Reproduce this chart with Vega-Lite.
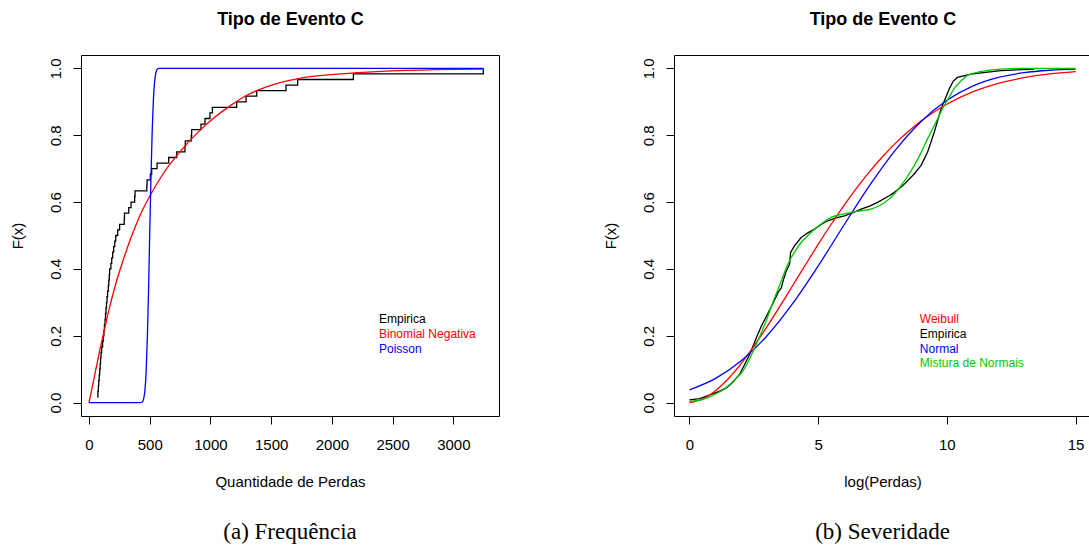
{
"$schema": "https://vega.github.io/schema/vega-lite/v6.json",
"background": "white",
"padding": {"left": 9, "top": 9, "right": 0, "bottom": 0},
"autosize": {"type": "pad"},
"spacing": 175,
"bounds": "flush",
"datasets": {
"freq": [
{"serie":"Empirica","x":68,"F":0.0167},{"serie":"Empirica","x":73,"F":0.0333},{"serie":"Empirica","x":77,"F":0.05},{"serie":"Empirica","x":80,"F":0.0667},{"serie":"Empirica","x":84,"F":0.0833},{"serie":"Empirica","x":88,"F":0.1},{"serie":"Empirica","x":92,"F":0.1167},{"serie":"Empirica","x":95,"F":0.1333},{"serie":"Empirica","x":99,"F":0.15},{"serie":"Empirica","x":104,"F":0.1667},{"serie":"Empirica","x":112,"F":0.1833},{"serie":"Empirica","x":118,"F":0.2},{"serie":"Empirica","x":123,"F":0.2167},{"serie":"Empirica","x":127,"F":0.2333},{"serie":"Empirica","x":132,"F":0.25},{"serie":"Empirica","x":136,"F":0.2667},{"serie":"Empirica","x":140,"F":0.2833},{"serie":"Empirica","x":144,"F":0.3},{"serie":"Empirica","x":148,"F":0.3167},{"serie":"Empirica","x":153,"F":0.3333},{"serie":"Empirica","x":159,"F":0.35},{"serie":"Empirica","x":163,"F":0.3667},{"serie":"Empirica","x":167,"F":0.3833},{"serie":"Empirica","x":170,"F":0.4},{"serie":"Empirica","x":180,"F":0.4167},{"serie":"Empirica","x":187,"F":0.4333},{"serie":"Empirica","x":195,"F":0.45},{"serie":"Empirica","x":203,"F":0.4667},{"serie":"Empirica","x":212,"F":0.4833},{"serie":"Empirica","x":220,"F":0.5},{"serie":"Empirica","x":236,"F":0.5167},{"serie":"Empirica","x":252,"F":0.5333},{"serie":"Empirica","x":290,"F":0.55},{"serie":"Empirica","x":292,"F":0.5667},{"serie":"Empirica","x":327,"F":0.5833},{"serie":"Empirica","x":346,"F":0.6},{"serie":"Empirica","x":376,"F":0.6167},{"serie":"Empirica","x":379,"F":0.6333},{"serie":"Empirica","x":476,"F":0.65},{"serie":"Empirica","x":478,"F":0.6667},{"serie":"Empirica","x":505,"F":0.6833},{"serie":"Empirica","x":516,"F":0.7},{"serie":"Empirica","x":560,"F":0.7167},{"serie":"Empirica","x":656,"F":0.7333},{"serie":"Empirica","x":722,"F":0.75},{"serie":"Empirica","x":790,"F":0.7667},{"serie":"Empirica","x":793,"F":0.7833},{"serie":"Empirica","x":842,"F":0.8},{"serie":"Empirica","x":845,"F":0.8167},{"serie":"Empirica","x":922,"F":0.8333},{"serie":"Empirica","x":955,"F":0.85},{"serie":"Empirica","x":996,"F":0.8667},{"serie":"Empirica","x":1016,"F":0.8833},{"serie":"Empirica","x":1216,"F":0.9},{"serie":"Empirica","x":1293,"F":0.9167},{"serie":"Empirica","x":1381,"F":0.9333},{"serie":"Empirica","x":1622,"F":0.95},{"serie":"Empirica","x":1718,"F":0.9667},{"serie":"Empirica","x":2177,"F":0.9833},{"serie":"Empirica","x":3247,"F":1.0},
{"serie":"Binomial Negativa","x":0,"F":0},{"serie":"Binomial Negativa","x":40,"F":0.07},{"serie":"Binomial Negativa","x":85,"F":0.15},{"serie":"Binomial Negativa","x":125,"F":0.215},{"serie":"Binomial Negativa","x":159,"F":0.27},{"serie":"Binomial Negativa","x":220,"F":0.355},{"serie":"Binomial Negativa","x":280,"F":0.425},{"serie":"Binomial Negativa","x":346,"F":0.494},{"serie":"Binomial Negativa","x":420,"F":0.56},{"serie":"Binomial Negativa","x":510,"F":0.624},{"serie":"Binomial Negativa","x":620,"F":0.69},{"serie":"Binomial Negativa","x":757,"F":0.754},{"serie":"Binomial Negativa","x":900,"F":0.81},{"serie":"Binomial Negativa","x":1032,"F":0.853},{"serie":"Binomial Negativa","x":1170,"F":0.89},{"serie":"Binomial Negativa","x":1307,"F":0.921},{"serie":"Binomial Negativa","x":1450,"F":0.943},{"serie":"Binomial Negativa","x":1581,"F":0.958},{"serie":"Binomial Negativa","x":1746,"F":0.971},{"serie":"Binomial Negativa","x":2020,"F":0.982},{"serie":"Binomial Negativa","x":2295,"F":0.989},{"serie":"Binomial Negativa","x":2600,"F":0.994},{"serie":"Binomial Negativa","x":2844,"F":0.996},{"serie":"Binomial Negativa","x":3247,"F":0.998},
{"serie":"Poisson","x":0,"F":0},{"serie":"Poisson","x":420,"F":0},{"serie":"Poisson","x":440,"F":0.003},{"serie":"Poisson","x":450,"F":0.012},{"serie":"Poisson","x":460,"F":0.035},{"serie":"Poisson","x":470,"F":0.09},{"serie":"Poisson","x":480,"F":0.19},{"serie":"Poisson","x":490,"F":0.33},{"serie":"Poisson","x":500,"F":0.51},{"serie":"Poisson","x":510,"F":0.67},{"serie":"Poisson","x":520,"F":0.81},{"serie":"Poisson","x":530,"F":0.905},{"serie":"Poisson","x":540,"F":0.96},{"serie":"Poisson","x":550,"F":0.986},{"serie":"Poisson","x":560,"F":0.996},{"serie":"Poisson","x":575,"F":1.0},{"serie":"Poisson","x":3247,"F":1.0}
],
"sev": [
{"serie":"Empirica","x":0,"F":0.008},{"serie":"Empirica","x":0.4,"F":0.012},{"serie":"Empirica","x":0.8,"F":0.023},{"serie":"Empirica","x":1.2,"F":0.035},{"serie":"Empirica","x":1.45,"F":0.045},{"serie":"Empirica","x":1.7,"F":0.062},{"serie":"Empirica","x":1.95,"F":0.085},{"serie":"Empirica","x":2.15,"F":0.115},{"serie":"Empirica","x":2.34,"F":0.145},{"serie":"Empirica","x":2.5,"F":0.175},{"serie":"Empirica","x":2.66,"F":0.205},{"serie":"Empirica","x":2.8,"F":0.23},{"serie":"Empirica","x":2.98,"F":0.257},{"serie":"Empirica","x":3.2,"F":0.29},{"serie":"Empirica","x":3.44,"F":0.329},{"serie":"Empirica","x":3.57,"F":0.344},{"serie":"Empirica","x":3.66,"F":0.37},{"serie":"Empirica","x":3.76,"F":0.394},{"serie":"Empirica","x":3.89,"F":0.414},{"serie":"Empirica","x":3.93,"F":0.449},{"serie":"Empirica","x":4.08,"F":0.469},{"serie":"Empirica","x":4.34,"F":0.494},{"serie":"Empirica","x":4.6,"F":0.508},{"serie":"Empirica","x":4.86,"F":0.519},{"serie":"Empirica","x":5.1,"F":0.532},{"serie":"Empirica","x":5.37,"F":0.544},{"serie":"Empirica","x":5.7,"F":0.553},{"serie":"Empirica","x":6.02,"F":0.559},{"serie":"Empirica","x":6.35,"F":0.568},{"serie":"Empirica","x":6.67,"F":0.579},{"serie":"Empirica","x":7.0,"F":0.588},{"serie":"Empirica","x":7.31,"F":0.599},{"serie":"Empirica","x":7.76,"F":0.619},{"serie":"Empirica","x":7.96,"F":0.629},{"serie":"Empirica","x":8.3,"F":0.65},{"serie":"Empirica","x":8.73,"F":0.684},{"serie":"Empirica","x":9.0,"F":0.71},{"serie":"Empirica","x":9.25,"F":0.749},{"serie":"Empirica","x":9.51,"F":0.809},{"serie":"Empirica","x":9.77,"F":0.878},{"serie":"Empirica","x":10.09,"F":0.938},{"serie":"Empirica","x":10.25,"F":0.962},{"serie":"Empirica","x":10.41,"F":0.973},{"serie":"Empirica","x":10.93,"F":0.983},{"serie":"Empirica","x":11.5,"F":0.988},{"serie":"Empirica","x":12.1,"F":0.993},{"serie":"Empirica","x":13.4,"F":0.998},
{"serie":"Weibull","x":0,"F":0},{"serie":"Weibull","x":0.5,"F":0.0101},{"serie":"Weibull","x":1,"F":0.0348},{"serie":"Weibull","x":1.5,"F":0.0708},{"serie":"Weibull","x":2,"F":0.1159},{"serie":"Weibull","x":2.5,"F":0.1682},{"serie":"Weibull","x":3,"F":0.2256},{"serie":"Weibull","x":3.5,"F":0.2864},{"serie":"Weibull","x":4,"F":0.3489},{"serie":"Weibull","x":4.5,"F":0.4117},{"serie":"Weibull","x":5,"F":0.4733},{"serie":"Weibull","x":5.5,"F":0.5329},{"serie":"Weibull","x":6,"F":0.5895},{"serie":"Weibull","x":6.5,"F":0.6424},{"serie":"Weibull","x":7,"F":0.6912},{"serie":"Weibull","x":7.5,"F":0.7357},{"serie":"Weibull","x":8,"F":0.7757},{"serie":"Weibull","x":8.5,"F":0.8111},{"serie":"Weibull","x":9,"F":0.8424},{"serie":"Weibull","x":9.5,"F":0.8695},{"serie":"Weibull","x":10,"F":0.8928},{"serie":"Weibull","x":11,"F":0.9294},{"serie":"Weibull","x":12,"F":0.955},{"serie":"Weibull","x":13,"F":0.9722},{"serie":"Weibull","x":14,"F":0.9833},{"serie":"Weibull","x":15,"F":0.9903},
{"serie":"Normal","x":0,"F":0.0384},{"serie":"Normal","x":1,"F":0.0719},{"serie":"Normal","x":2,"F":0.1243},{"serie":"Normal","x":3,"F":0.1987},{"serie":"Normal","x":4,"F":0.2951},{"serie":"Normal","x":5,"F":0.4087},{"serie":"Normal","x":6,"F":0.5307},{"serie":"Normal","x":7,"F":0.6497},{"serie":"Normal","x":8,"F":0.7556},{"serie":"Normal","x":9,"F":0.8413},{"serie":"Normal","x":10,"F":0.9045},{"serie":"Normal","x":11,"F":0.9469},{"serie":"Normal","x":12,"F":0.9728},{"serie":"Normal","x":13,"F":0.9872},{"serie":"Normal","x":14,"F":0.9944},{"serie":"Normal","x":15,"F":0.9978},
{"serie":"Mistura de Normais","x":0,"F":0.004},{"serie":"Mistura de Normais","x":0.5,"F":0.009},{"serie":"Mistura de Normais","x":1.0,"F":0.025},{"serie":"Mistura de Normais","x":1.43,"F":0.045},{"serie":"Mistura de Normais","x":1.75,"F":0.068},{"serie":"Mistura de Normais","x":2.08,"F":0.095},{"serie":"Mistura de Normais","x":2.35,"F":0.133},{"serie":"Mistura de Normais","x":2.6,"F":0.175},{"serie":"Mistura de Normais","x":2.98,"F":0.245},{"serie":"Mistura de Normais","x":3.31,"F":0.314},{"serie":"Mistura de Normais","x":3.55,"F":0.36},{"serie":"Mistura de Normais","x":3.82,"F":0.414},{"serie":"Mistura de Normais","x":4.08,"F":0.45},{"serie":"Mistura de Normais","x":4.34,"F":0.479},{"serie":"Mistura de Normais","x":4.6,"F":0.5},{"serie":"Mistura de Normais","x":4.86,"F":0.519},{"serie":"Mistura de Normais","x":5.18,"F":0.538},{"serie":"Mistura de Normais","x":5.5,"F":0.554},{"serie":"Mistura de Normais","x":5.9,"F":0.563},{"serie":"Mistura de Normais","x":6.28,"F":0.569},{"serie":"Mistura de Normais","x":6.67,"F":0.574},{"serie":"Mistura de Normais","x":7.05,"F":0.579},{"serie":"Mistura de Normais","x":7.38,"F":0.589},{"serie":"Mistura de Normais","x":7.76,"F":0.609},{"serie":"Mistura de Normais","x":8.0,"F":0.628},{"serie":"Mistura de Normais","x":8.22,"F":0.649},{"serie":"Mistura de Normais","x":8.48,"F":0.678},{"serie":"Mistura de Normais","x":8.73,"F":0.709},{"serie":"Mistura de Normais","x":9.0,"F":0.748},{"serie":"Mistura de Normais","x":9.25,"F":0.789},{"serie":"Mistura de Normais","x":9.45,"F":0.82},{"serie":"Mistura de Normais","x":9.64,"F":0.849},{"serie":"Mistura de Normais","x":9.9,"F":0.889},{"serie":"Mistura de Normais","x":10.1,"F":0.915},{"serie":"Mistura de Normais","x":10.28,"F":0.939},{"serie":"Mistura de Normais","x":10.55,"F":0.962},{"serie":"Mistura de Normais","x":10.8,"F":0.979},{"serie":"Mistura de Normais","x":11.3,"F":0.99},{"serie":"Mistura de Normais","x":12.1,"F":0.998},{"serie":"Mistura de Normais","x":13,"F":1.0},{"serie":"Mistura de Normais","x":15,"F":1.0}
]
},
"hconcat": [
{
"width": 418, "height": 361,
"title": {"text": "(a) Frequência", "orient": "bottom", "anchor": "middle", "frame": "group", "font": "Liberation Serif", "fontSize": 23, "fontWeight": "normal", "color": "#000000", "baseline": "alphabetic", "offset": 50},
"resolve": {"axis": {"x": "independent", "y": "independent"}},
"layer": [
{"data": {"name": "freq"}, "transform": [{"filter": "datum.serie === 'Empirica'"}],
 "mark": {"type": "line", "interpolate": "step-after", "color": "#000000", "strokeWidth": 1.3},
 "encoding": {
  "x": {"field": "x", "type": "quantitative", "scale": {"domain": [-66, 3376], "nice": false, "zero": false},
        "axis": {"orient": "bottom", "values": [0,500,1000,1500,2000,2500,3000], "format": "d", "title": "Quantidade de Perdas", "labelBaseline": "alphabetic", "labelPadding": 25.5, "titleX": 209, "titleY": 70, "titleBaseline": "alphabetic", "titleAnchor": "middle"}},
  "y": {"field": "F", "type": "quantitative", "scale": {"domain": [-0.04, 1.04], "nice": false, "zero": false},
        "axis": {"orient": "left", "values": [0,0.2,0.4,0.6,0.8,1], "format": ".1f", "title": "F(x)", "labelAngle": -90, "labelAlign": "center", "labelBaseline": "alphabetic", "labelPadding": 12.7, "titleAngle": -90, "titleBaseline": "alphabetic", "titleAlign": "center", "titleX": -59, "titleY": 180.5}}
 }},
{"data": {"name": "freq"}, "transform": [{"filter": "datum.serie === 'Binomial Negativa'"}],
 "mark": {"type": "line", "interpolate": "monotone", "color": "#FF0000", "strokeWidth": 1.3},
 "encoding": {
  "x": {"field": "x", "type": "quantitative", "axis": {"orient": "top", "title": "Tipo de Evento C", "labels": false, "ticks": false, "domain": false, "titleFontSize": 18, "titleFontWeight": "bold", "titleX": 209, "titleY": -31, "titleBaseline": "alphabetic", "titleAnchor": "middle"}},
  "y": {"field": "F", "type": "quantitative", "axis": null}
 }},
{"data": {"name": "freq"}, "transform": [{"filter": "datum.serie === 'Poisson'"}],
 "mark": {"type": "line", "interpolate": "monotone", "color": "#0000FF", "strokeWidth": 1.3},
 "encoding": {
  "x": {"field": "x", "type": "quantitative", "axis": null},
  "y": {"field": "F", "type": "quantitative", "axis": null}
 }},
{"data": {"values": [{"label": "Empirica"}]}, "mark": {"type": "text", "color": "#000000"},
 "encoding": {"x": {"datum": 2388, "type": "quantitative", "axis": null}, "y": {"datum": 0.2377, "type": "quantitative", "axis": null}, "text": {"field": "label"}}},
{"data": {"values": [{"label": "Binomial Negativa"}]}, "mark": {"type": "text", "color": "#FF0000"},
 "encoding": {"x": {"datum": 2388, "type": "quantitative", "axis": null}, "y": {"datum": 0.1928, "type": "quantitative", "axis": null}, "text": {"field": "label"}}},
{"data": {"values": [{"label": "Poisson"}]}, "mark": {"type": "text", "color": "#0000FF"},
 "encoding": {"x": {"datum": 2388, "type": "quantitative", "axis": null}, "y": {"datum": 0.1497, "type": "quantitative", "axis": null}, "text": {"field": "label"}}}
]
},
{
"width": 417, "height": 361,
"title": {"text": "(b) Severidade", "orient": "bottom", "anchor": "middle", "frame": "group", "font": "Liberation Serif", "fontSize": 23, "fontWeight": "normal", "color": "#000000", "baseline": "alphabetic", "offset": 50},
"resolve": {"axis": {"x": "independent", "y": "independent"}},
"layer": [
{"data": {"name": "sev"}, "transform": [{"filter": "datum.serie === 'Empirica'"}],
 "mark": {"type": "line", "interpolate": "linear", "color": "#000000", "strokeWidth": 1.3},
 "encoding": {
  "x": {"field": "x", "type": "quantitative", "scale": {"domain": [-0.6, 15.6], "nice": false, "zero": false},
        "axis": {"orient": "bottom", "values": [0,5,10,15], "format": "d", "title": "log(Perdas)", "labelBaseline": "alphabetic", "labelPadding": 25.5, "titleX": 208.5, "titleY": 70, "titleBaseline": "alphabetic", "titleAnchor": "middle"}},
  "y": {"field": "F", "type": "quantitative", "scale": {"domain": [-0.04, 1.04], "nice": false, "zero": false},
        "axis": {"orient": "left", "values": [0,0.2,0.4,0.6,0.8,1], "format": ".1f", "title": "F(x)", "labelAngle": -90, "labelAlign": "center", "labelBaseline": "alphabetic", "labelPadding": 12.7, "titleAngle": -90, "titleBaseline": "alphabetic", "titleAlign": "center", "titleX": -59, "titleY": 180.5}}
 }},
{"data": {"name": "sev"}, "transform": [{"filter": "datum.serie === 'Weibull'"}],
 "mark": {"type": "line", "interpolate": "monotone", "color": "#FF0000", "strokeWidth": 1.3},
 "encoding": {
  "x": {"field": "x", "type": "quantitative", "axis": {"orient": "top", "title": "Tipo de Evento C", "labels": false, "ticks": false, "domain": false, "titleFontSize": 18, "titleFontWeight": "bold", "titleX": 208.5, "titleY": -31, "titleBaseline": "alphabetic", "titleAnchor": "middle"}},
  "y": {"field": "F", "type": "quantitative", "axis": null}
 }},
{"data": {"name": "sev"}, "transform": [{"filter": "datum.serie === 'Normal'"}],
 "mark": {"type": "line", "interpolate": "monotone", "color": "#0000FF", "strokeWidth": 1.3},
 "encoding": {
  "x": {"field": "x", "type": "quantitative", "axis": null},
  "y": {"field": "F", "type": "quantitative", "axis": null}
 }},
{"data": {"name": "sev"}, "transform": [{"filter": "datum.serie === 'Mistura de Normais'"}],
 "mark": {"type": "line", "interpolate": "monotone", "color": "#00C800", "strokeWidth": 1.3},
 "encoding": {
  "x": {"field": "x", "type": "quantitative", "axis": null},
  "y": {"field": "F", "type": "quantitative", "axis": null}
 }},
{"data": {"values": [{"label": "Weibull"}]}, "mark": {"type": "text", "color": "#FF0000"},
 "encoding": {"x": {"datum": 8.95, "type": "quantitative", "axis": null}, "y": {"datum": 0.2395, "type": "quantitative", "axis": null}, "text": {"field": "label"}}},
{"data": {"values": [{"label": "Empirica"}]}, "mark": {"type": "text", "color": "#000000"},
 "encoding": {"x": {"datum": 8.95, "type": "quantitative", "axis": null}, "y": {"datum": 0.1946, "type": "quantitative", "axis": null}, "text": {"field": "label"}}},
{"data": {"values": [{"label": "Normal"}]}, "mark": {"type": "text", "color": "#0000FF"},
 "encoding": {"x": {"datum": 8.95, "type": "quantitative", "axis": null}, "y": {"datum": 0.1497, "type": "quantitative", "axis": null}, "text": {"field": "label"}}},
{"data": {"values": [{"label": "Mistura de Normais"}]}, "mark": {"type": "text", "color": "#00C800"},
 "encoding": {"x": {"datum": 8.95, "type": "quantitative", "axis": null}, "y": {"datum": 0.1069, "type": "quantitative", "axis": null}, "text": {"field": "label"}}}
]
}
],
"config": {
"font": "Liberation Sans",
"view": {"stroke": "#000000", "strokeWidth": 1},
"axis": {"grid": false, "domain": false, "tickColor": "#000000", "tickSize": 8, "tickWidth": 1, "labelColor": "#000000", "titleColor": "#000000", "labelFont": "Liberation Sans", "titleFont": "Liberation Sans", "labelFontSize": 15, "titleFontSize": 15, "titleFontWeight": "normal", "labelOverlap": false, "labelFlush": false},
"text": {"font": "Liberation Sans", "fontSize": 12, "align": "left", "baseline": "alphabetic"}
}
}
